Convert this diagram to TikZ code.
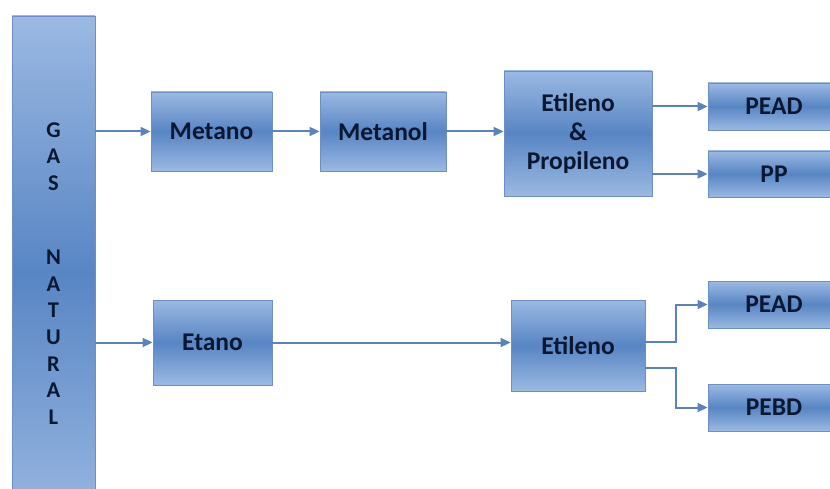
\documentclass[tikz,border=0pt]{standalone}
\usepackage{fontspec}
\setmainfont{Carlito}
\usetikzlibrary{arrows.meta,calc}
\definecolor{boxlight}{HTML}{9BB9E2}
\definecolor{boxdark}{HTML}{5885C4}
\definecolor{boxedge}{HTML}{6C90C6}
\definecolor{boxtext}{HTML}{0A1730}
\definecolor{flowblue}{HTML}{5A82BE}
\begin{document}
\begin{tikzpicture}[x=1pt,y=-1pt,
  box/.style={draw=boxedge, line width=0.9pt, top color=boxlight,
    bottom color=boxlight, middle color=boxdark, text=boxtext,
    font=\bfseries\fontsize{25.5}{29}\selectfont, align=center, inner sep=0pt},
  flow/.style={draw=flowblue, line width=2pt,
    -{Triangle[length=10pt,width=9pt]}}]
  \useasboundingbox (0,0) rectangle (830,489);
  \clip (0,0) rectangle (830,489);

  % source column
  \node[box, minimum width=83pt, minimum height=515pt,
        font=\bfseries\fontsize{22.5}{26.7}\selectfont]
        (gas) at (53.5,273.5) {G\\A\\S\\[47pt]N\\A\\T\\U\\R\\A\\L};

  % methane route
  \node[box, minimum width=121pt, minimum height=79pt] (metano)  at (211.5,131.5) {Metano};
  \node[box, minimum width=126pt, minimum height=79pt] (metanol) at (383,131.5) {Metanol};
  \node[box, minimum width=148pt, minimum height=125pt] (etprop) at (578,133.5) {Etileno\\\&\\Propileno};
  \node[box, minimum width=132pt, minimum height=47pt] (pead1) at (774,106.5) {PEAD};
  \node[box, minimum width=132pt, minimum height=46pt] (pp)    at (774,174) {PP};

  % ethane route
  \node[box, minimum width=119pt, minimum height=85pt] (etano) at (212.5,342.5) {Etano};
  \node[box, minimum width=134pt, minimum height=91pt] (etil)  at (578,345.5) {Etileno};
  \node[box, minimum width=132pt, minimum height=47pt] (pead2) at (774,304.5) {PEAD};
  \node[box, minimum width=132pt, minimum height=47pt] (pebd)  at (774,407.5) {PEBD};

  % connectors
  \draw[flow] (gas.east |- metano.west) -- (metano.west);
  \draw[flow] (metano.east) -- (metanol.west);
  \draw[flow] (metanol.east) -- (metanol.east -| etprop.west);
  \draw[flow] (etprop.east |- pead1.west) -- (pead1.west);
  \draw[flow] (etprop.east |- pp.west) -- (pp.west);

  \draw[flow] (gas.east |- etano.west) -- (etano.west);
  \draw[flow] (etano.east) -- (etano.east -| etil.west);
  \coordinate (up)  at ($(etil.east)+(0,-3.5)$);
  \coordinate (low) at ($(etil.east)+(0,22.5)$);
  \draw[flow] (up) -- ++(31,0) |- (pead2.west);
  \draw[flow] (low) -- ++(31,0) |- (pebd.west);
\end{tikzpicture}
\end{document}
